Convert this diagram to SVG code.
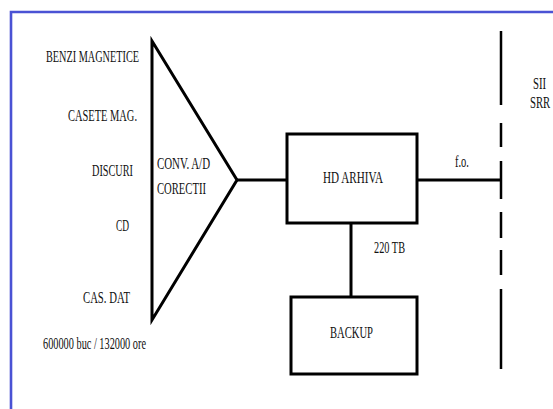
<svg xmlns="http://www.w3.org/2000/svg" width="553" height="409" viewBox="0 0 553 409">
<style>
text{font-family:"Liberation Serif","DejaVu Serif",serif;font-size:16px;fill:#111;}
.shape{fill:none;stroke:#000;stroke-width:3;stroke-linejoin:miter;}
.conn{fill:none;stroke:#000;stroke-width:3;}
.r{text-anchor:end;}
</style>
<rect x="0" y="0" width="553" height="409" fill="#fff"/>
<path d="M11,409 V12 H553" fill="none" stroke="#4a52d4" stroke-width="2.6"/>
<g id="sources">
<text x="139" y="62" class="r" textLength="93" lengthAdjust="spacingAndGlyphs">BENZI MAGNETICE</text>
<text x="137" y="121" class="r" textLength="69" lengthAdjust="spacingAndGlyphs">CASETE MAG.</text>
<text x="133" y="176" class="r" textLength="41" lengthAdjust="spacingAndGlyphs">DISCURI</text>
<text x="129" y="231" class="r" textLength="13" lengthAdjust="spacingAndGlyphs">CD</text>
<text x="130" y="303" class="r" textLength="47" lengthAdjust="spacingAndGlyphs">CAS. DAT</text>
<text x="43" y="349" textLength="103" lengthAdjust="spacingAndGlyphs">600000 buc / 132000 ore</text>
</g>
<g id="converter">
<path class="shape" d="M152,41 L237,180 L152,320 Z"/>
<text x="157" y="169" textLength="53" lengthAdjust="spacingAndGlyphs">CONV. A/D</text>
<text x="157" y="194" textLength="49" lengthAdjust="spacingAndGlyphs">CORECTII</text>
</g>
<g id="hd-arhiva">
<rect class="shape" x="287" y="134" width="130" height="89"/>
<text x="323" y="183" textLength="60" lengthAdjust="spacingAndGlyphs">HD  ARHIVA</text>
</g>
<g id="backup">
<rect class="shape" x="291" y="297" width="126" height="77"/>
<text x="330" y="338" textLength="43" lengthAdjust="spacingAndGlyphs">BACKUP</text>
</g>
<g id="boundary">
<path d="M501,31 V105 M501,123 V147 M501,161 V199 M501,212 V238 M501,250 V275 M501,289 V369" fill="none" stroke="#000" stroke-width="2.5"/>
<text transform="translate(533,89) scale(0.67,1)">SII</text>
<text transform="translate(530,108) scale(0.67,1)">SRR</text>
</g>
<g id="connectors">
<path class="conn" d="M237,180 H287"/>
<path class="conn" d="M417,180 H501"/>
<path class="conn" d="M351,223 V297"/>
<text x="455" y="167" textLength="14" lengthAdjust="spacingAndGlyphs">f.o.</text>
<text x="374" y="253" textLength="31" lengthAdjust="spacingAndGlyphs">220 TB</text>
</g>
</svg>
